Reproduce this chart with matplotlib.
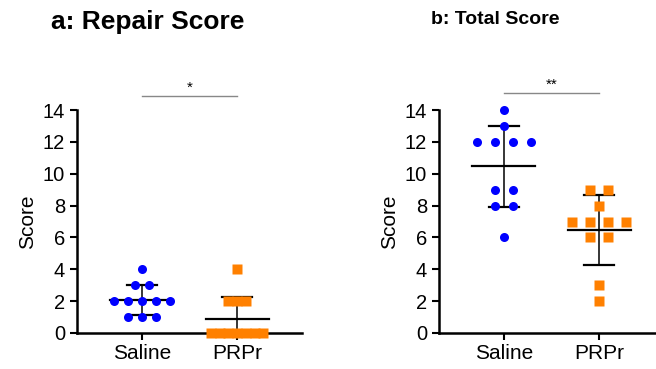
import numpy as np
import matplotlib.pyplot as plt

plt.rcParams['font.family'] = ['Liberation Sans', 'DejaVu Sans']

groups = ['Saline', 'PRPr']

# panel a: repair score
repair_saline = [4, 3, 3, 2, 2, 2, 2, 2, 1, 1, 1]
repair_prpr = [4, 2, 2, 2, 0, 0, 0, 0, 0, 0, 0]

# panel b: total score
total_saline = [14, 13, 12, 12, 12, 12, 9, 9, 8, 8, 6]
total_prpr = [9, 9, 8, 7, 7, 7, 7, 6, 6, 3, 2]

blue = '#0000FF'
orange = '#FF8000'


def spread(vals, step):
    # put equal values side by side, centered on the group position
    vals = np.array(vals, dtype=float)
    offs = np.zeros(len(vals))
    for v in np.unique(vals):
        idx = np.where(vals == v)[0]
        n = len(idx)
        offs[idx] = (np.arange(n) - (n - 1) / 2) * step
    return offs


def panel(ax, a, b, steps):
    for i, (vals, col, mk, ms) in enumerate([(a, blue, 'o', 6.5), (b, orange, 's', 6.6)]):
        x = i + spread(vals, steps[i])
        ax.plot(x, vals, mk, color=col, ms=ms, mec='none', clip_on=False, zorder=3)
        m = np.mean(vals)
        sd = np.std(vals, ddof=1)
        ax.plot([i - 0.33, i + 0.33], [m, m], color='black', lw=1.6, zorder=2, clip_on=False)
        lo = max(m - sd, 0)
        ax.plot([i, i], [lo, m + sd], color='black', lw=1.1, zorder=2, clip_on=False)
        ax.plot([i - 0.16, i + 0.16], [m + sd, m + sd], color='black', lw=1.6, zorder=2)
        if m - sd > 0:
            ax.plot([i - 0.16, i + 0.16], [m - sd, m - sd], color='black', lw=1.6, zorder=2)
    ax.set_xlim(-0.68, 1.68)
    ax.set_ylim(0, 14)
    ax.set_yticks(range(0, 15, 2))
    ax.set_xticks([0, 1])
    ax.set_xticklabels(groups)
    ax.set_ylabel('Score', fontsize=15)
    ax.tick_params(axis='both', width=1.5, length=5, labelsize=14.5)
    ax.tick_params(axis='x', labelsize=15, pad=3)
    for s in ['top', 'right']:
        ax.spines[s].set_visible(False)
    for s in ['left', 'bottom']:
        ax.spines[s].set_linewidth(1.8)
    return ax


fig = plt.figure(figsize=(6.56, 3.69), dpi=100)
ax1 = fig.add_axes([77 / 656, 1 - 333 / 369, 225 / 656, 223 / 369])
ax2 = fig.add_axes([439 / 656, 1 - 333 / 369, 225 / 656, 223 / 369])

panel(ax1, repair_saline, repair_prpr, [0.147, 0.092])
panel(ax2, total_saline, total_prpr, [0.19, 0.19])

# significance bars
ax1.plot([0, 1], [14.88, 14.88], color='#888888', lw=1, clip_on=False)
ax1.text(0.5, 14.93, '*', ha='center', va='bottom', fontsize=11)
ax2.plot([0, 1], [15.07, 15.07], color='#888888', lw=1, clip_on=False)
ax2.text(0.5, 15.12, '**', ha='center', va='bottom', fontsize=11)

fig.text(148 / 656, 1 - 22 / 369, 'a: Repair Score', ha='center', va='center',
         fontsize=19, fontweight='bold')
fig.text(495 / 656, 1 - 20 / 369, 'b: Total Score', ha='center', va='center',
         fontsize=14, fontweight='bold')

fig.savefig('out.png', dpi=100)
